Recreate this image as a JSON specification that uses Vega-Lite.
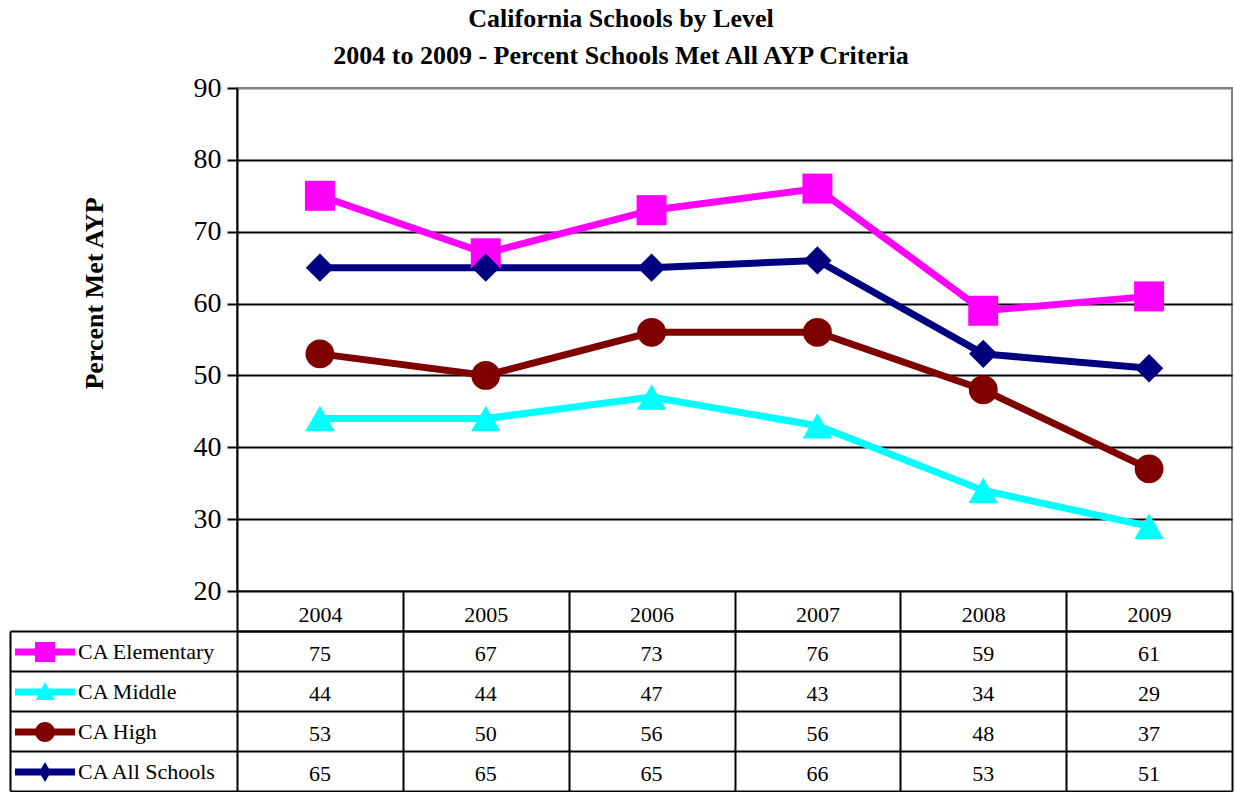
{
  "$schema": "https://vega.github.io/schema/vega-lite/v6.json",
  "background": "white",
  "padding": {"left": 9, "top": 6, "right": 2, "bottom": 0},
  "config": {
    "font": "Liberation Serif",
    "view": {"stroke": null},
    "axis": {"labelFont": "Liberation Serif", "titleFont": "Liberation Serif"},
    "legend": {"labelFont": "Liberation Serif"}
  },
  "title": {
    "text": ["California Schools by Level", "2004 to 2009 - Percent Schools Met All AYP Criteria"],
    "fontSize": 26,
    "fontWeight": "bold",
    "lineHeight": 37,
    "color": "black",
    "anchor": "middle",
    "frame": "bounds",
    "offset": 4
  },
  "datasets": {
    "ayp": [
      {"year": "2004", "series": "CA Elementary", "value": 75},
      {"year": "2005", "series": "CA Elementary", "value": 67},
      {"year": "2006", "series": "CA Elementary", "value": 73},
      {"year": "2007", "series": "CA Elementary", "value": 76},
      {"year": "2008", "series": "CA Elementary", "value": 59},
      {"year": "2009", "series": "CA Elementary", "value": 61},
      {"year": "2004", "series": "CA Middle", "value": 44},
      {"year": "2005", "series": "CA Middle", "value": 44},
      {"year": "2006", "series": "CA Middle", "value": 47},
      {"year": "2007", "series": "CA Middle", "value": 43},
      {"year": "2008", "series": "CA Middle", "value": 34},
      {"year": "2009", "series": "CA Middle", "value": 29},
      {"year": "2004", "series": "CA High", "value": 53},
      {"year": "2005", "series": "CA High", "value": 50},
      {"year": "2006", "series": "CA High", "value": 56},
      {"year": "2007", "series": "CA High", "value": 56},
      {"year": "2008", "series": "CA High", "value": 48},
      {"year": "2009", "series": "CA High", "value": 37},
      {"year": "2004", "series": "CA All Schools", "value": 65},
      {"year": "2005", "series": "CA All Schools", "value": 65},
      {"year": "2006", "series": "CA All Schools", "value": 65},
      {"year": "2007", "series": "CA All Schools", "value": 66},
      {"year": "2008", "series": "CA All Schools", "value": 53},
      {"year": "2009", "series": "CA All Schools", "value": 51}
    ]
  },
  "bounds": "flush",
  "spacing": 40,
  "resolve": {
    "scale": {"x": "independent", "y": "independent", "color": "independent", "shape": "independent", "size": "independent"},
    "legend": {"color": "independent", "shape": "independent", "size": "independent"}
  },
  "vconcat": [
    {
      "width": 995,
      "height": 503,
      "view": {"stroke": "#808080", "strokeWidth": 2},
      "data": {"name": "ayp"},
      "encoding": {
        "x": {"field": "year", "type": "ordinal", "scale": {"type": "point", "padding": 0.5}, "axis": null},
        "y": {
          "field": "value",
          "type": "quantitative",
          "scale": {"domain": [20, 90], "nice": false, "zero": false},
          "axis": {
            "values": [20, 30, 40, 50, 60, 70, 80, 90],
            "title": "Percent Met AYP",
            "titleFontSize": 26,
            "titleFontWeight": "bold",
            "titleColor": "black",
            "titlePadding": 86,
            "titleY": 205,
            "labelFontSize": 28,
            "labelColor": "black",
            "labelPadding": 6,
            "tickSize": 10,
            "tickColor": "black",
            "tickWidth": 2,
            "domainColor": "black",
            "domainWidth": 2,
            "grid": true,
            "gridColor": {"condition": {"test": "datum.value === 90", "value": "#808080"}, "value": "black"},
            "gridWidth": 2,
            "gridOpacity": 1
          }
        },
        "color": {
          "field": "series",
          "type": "nominal",
          "scale": {"domain": ["CA Elementary", "CA Middle", "CA High", "CA All Schools"], "range": ["#FF00FF", "#00FFFF", "#800000", "#000080"]},
          "legend": null
        }
      },
      "layer": [
        {"mark": {"type": "line", "strokeWidth": 7}},
        {
          "mark": {"type": "point", "filled": true, "opacity": 1},
          "encoding": {
            "shape": {"field": "series", "type": "nominal", "scale": {"domain": ["CA Elementary", "CA Middle", "CA High", "CA All Schools"], "range": ["square", "triangle-up", "circle", "diamond"]}, "legend": null},
            "size": {"field": "series", "type": "nominal", "scale": {"domain": ["CA Elementary", "CA Middle", "CA High", "CA All Schools"], "range": [900, 800, 841, 700]}, "legend": null}
          }
        }
      ]
    },
    {
      "width": 995,
      "height": 160,
      "data": {"name": "ayp"},
      "encoding": {
        "x": {
          "field": "year",
          "type": "ordinal",
          "scale": {"type": "band", "paddingInner": 0, "paddingOuter": 0},
          "axis": {
            "orient": "top",
            "title": null,
            "tickBand": "extent",
            "tickSize": 40,
            "tickColor": "black",
            "tickWidth": 2,
            "domainColor": "black",
            "domainWidth": 2,
            "labelAngle": 0,
            "labelFontSize": 22,
            "labelColor": "black",
            "labelBaseline": "middle",
            "labelPadding": -23,
            "grid": true,
            "gridColor": "black",
            "gridWidth": 2,
            "gridOpacity": 1
          }
        },
        "y": {
          "field": "series",
          "type": "nominal",
          "scale": {"type": "band", "domain": ["CA Elementary", "CA Middle", "CA High", "CA All Schools"], "paddingInner": 0, "paddingOuter": 0},
          "axis": {
            "orient": "left",
            "title": null,
            "offset": 227,
            "tickBand": "extent",
            "tickSize": -227,
            "tickColor": "black",
            "tickWidth": 2,
            "labels": false,
            "domainColor": "black",
            "domainWidth": 2,
            "grid": true,
            "gridColor": "black",
            "gridWidth": 2,
            "gridOpacity": 1
          }
        }
      },
      "layer": [
        {
          "mark": {"type": "text", "fontSize": 22, "color": "black", "font": "Liberation Serif", "dy": 3},
          "encoding": {"text": {"field": "value", "type": "quantitative"}}
        },
        {
          "mark": {"type": "point", "filled": true, "opacity": 0},
          "encoding": {
            "color": {
              "field": "series",
              "type": "nominal",
              "scale": {"domain": ["CA Elementary", "CA Middle", "CA High", "CA All Schools"], "range": ["#FF00FF", "#00FFFF", "#800000", "#000080"]},
              "legend": {
                "orient": "none",
                "legendX": -212,
                "legendY": 1,
                "title": null,
                "padding": 0,
                "rowPadding": 9,
                "labelOffset": 13,
                "labelFontSize": 22,
                "labelColor": "black",
                "symbolSize": 1600,
                "symbolOpacity": 1,
                "symbolStrokeWidth": 0
              }
            },
            "shape": {
              "field": "series",
              "type": "nominal",
              "scale": {
                "domain": ["CA Elementary", "CA Middle", "CA High", "CA All Schools"],
                "range": [
                  "M-1.5,-0.17H1.5V0.17H-1.5Z M-0.5,-0.5H0.5V0.5H-0.5Z",
                  "M-1.5,-0.17H1.5V0.17H-1.5Z M0,-0.5L0.47,0.4H-0.47Z",
                  "M-1.5,-0.17H1.5V0.17H-1.5Z M0,-0.5C0.276,-0.5 0.5,-0.276 0.5,0C0.5,0.276 0.276,0.5 0,0.5C-0.276,0.5 -0.5,0.276 -0.5,0C-0.5,-0.276 -0.276,-0.5 0,-0.5Z",
                  "M-1.5,-0.17H1.5V0.17H-1.5Z M0,-0.5L0.3,0L0,0.5L-0.3,0Z"
                ]
              },
              "legend": {
                "orient": "none",
                "legendX": -212,
                "legendY": 1,
                "title": null,
                "padding": 0,
                "rowPadding": 9,
                "labelOffset": 13,
                "labelFontSize": 22,
                "labelColor": "black",
                "symbolSize": 1600,
                "symbolOpacity": 1,
                "symbolStrokeWidth": 0
              }
            }
          }
        }
      ]
    }
  ]
}
